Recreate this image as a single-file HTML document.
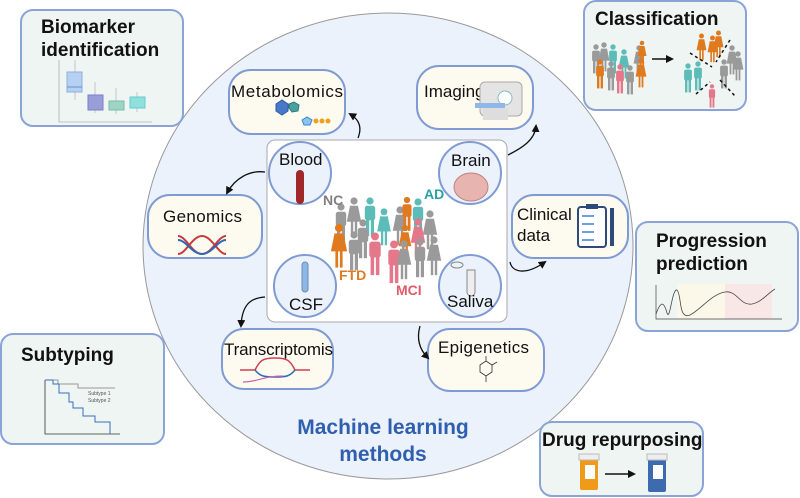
<!DOCTYPE html>
<html><head><meta charset="utf-8"><style>
html,body{margin:0;padding:0;background:#fff;}
svg{display:block;font-family:"Liberation Sans",sans-serif;}
</style></head><body>
<svg width="800" height="498" viewBox="0 0 800 498" xmlns="http://www.w3.org/2000/svg">
<defs>
<symbol id="p" viewBox="0 0 20 50"><circle cx="10" cy="5" r="4.5"/><rect x="3.5" y="11" width="13" height="18" rx="3"/><rect x="5" y="27" width="4" height="22"/><rect x="11" y="27" width="4" height="22"/></symbol>
<symbol id="f" viewBox="0 0 20 50"><circle cx="10" cy="5" r="4.5"/><path d="M5 11h10l4 20H1z"/><rect x="6" y="29" width="3" height="20"/><rect x="11" y="29" width="3" height="20"/></symbol>
<marker id="ah" markerWidth="8" markerHeight="8" refX="6" refY="4" orient="auto" markerUnits="userSpaceOnUse"><path d="M0 0L8 4L0 8z" fill="#111"/></marker>
</defs>
<ellipse cx="388" cy="246" rx="245" ry="233" fill="#ebf2fb" stroke="#999" stroke-width="1"/>
<g stroke="#8aa4d8" stroke-width="2" fill="#eef5f2">
<rect x="21" y="10" width="162" height="116" rx="12"/>
<rect x="584" y="1" width="162" height="109" rx="12"/>
<rect x="636" y="222" width="162" height="109" rx="12"/>
<rect x="1" y="334" width="163" height="110" rx="12"/>
<rect x="540" y="422" width="163" height="74" rx="12"/>
</g>
<g font-weight="bold" fill="#111" font-size="19">
<text x="41" y="33">Biomarker</text>
<text x="41" y="56">identification</text>
<text x="595" y="25">Classification</text>
<text x="656" y="247">Progression</text>
<text x="656" y="270">prediction</text>
<text x="21" y="361">Subtyping</text>
<text x="542" y="446">Drug repurposing</text>
</g>
<!-- boxplot -->
<path d="M59 60V122H152" stroke="#999" stroke-width="0.6" fill="none"/>
<g stroke="#999" stroke-width="0.5"><path d="M75 60v12M75 92v8M95 82v13M95 110v3M116 88v13M116 110v4M137 92v5M137 108v4"/></g>
<rect x="67" y="72" width="15" height="20" fill="#b6d0f1" stroke="#8fb0e0"/><line x1="67" y1="87" x2="82" y2="87" stroke="#6a90d0"/>
<rect x="88" y="95" width="15" height="15" fill="#9a9ed8" stroke="#7a80c8"/>
<rect x="109" y="101" width="15" height="9" fill="#9fd3c3" stroke="#7bbba8"/>
<rect x="130" y="97" width="15" height="11" fill="#8fe0dd" stroke="#66cccc"/>
<!-- subtyping chart -->
<path d="M45 380V434H120" stroke="#333" fill="none" stroke-width="0.8"/>
<path d="M45 380H58V384H78V388H115" stroke="#999" fill="none"/>
<path d="M45 380H53V384H59V393H69V402H73V408H83V416H95V422H110V434" stroke="#3b6fc0" fill="none"/>
<text x="88" y="395" font-size="5" fill="#555">Subtype 1</text><text x="88" y="402" font-size="5" fill="#555">Subtype 2</text>
<!-- progression chart -->
<rect x="677" y="284" width="48" height="35" fill="#fbf8ea"/><rect x="725" y="284" width="47" height="35" fill="#f9e6e6"/>
<path d="M656 285V319H782" stroke="#444" fill="none" stroke-width="0.7"/>
<path d="M656 314C661 300 664 302 667 313C670 322 672 288 677 290C682 295 678 320 690 315C700 310 712 294 725 292C737 290 740 306 752 304C762 302 768 293 775 289" stroke="#444" fill="none" stroke-width="0.8"/>
<rect x="267" y="140" width="240" height="182" rx="8" fill="#fff" stroke="#aaa" stroke-width="1"/>
<g stroke="#7f9bd4" stroke-width="2" fill="#fdfaf0">
<rect x="229" y="70" width="116" height="64" rx="22"/>
<rect x="417" y="66" width="116" height="63" rx="22"/>
<rect x="148" y="195" width="114" height="63" rx="22"/>
<rect x="512" y="195" width="116" height="63" rx="22"/>
<rect x="222" y="329" width="111" height="60" rx="22"/>
<rect x="428" y="329" width="116" height="62" rx="22"/>
</g>
<g font-size="17" fill="#111">
<text x="231" y="97" textLength="112">Metabolomics</text>
<text x="424" y="97">Imaging</text>
<text x="163" y="222" textLength="79">Genomics</text>
<text x="517" y="220">Clinical</text><text x="517" y="241">data</text>
<text x="224" y="355" textLength="109">Transcriptomis</text>
<text x="438" y="353" textLength="91">Epigenetics</text>
</g>
<path d="M276 104l6 -4 6 4v7l-6 4-6-4z" fill="#4a78c8" stroke="#2d5aa8"/>
<path d="M289 104l5-2 5 3-1 6-6 1-3-4z" fill="#4aa0a0" stroke="#2d7a7a"/>
<path d="M302 120l5-3 5 3-2 5h-6z" fill="#8cc4f0" stroke="#3c86c8"/>
<g fill="#f0a020"><circle cx="316" cy="121" r="2.5"/><circle cx="322" cy="121" r="2.5"/><circle cx="328" cy="121" r="2.5"/></g>
<rect x="480" y="82" width="42" height="34" rx="5" fill="#e4e4e4" stroke="#aaa"/><circle cx="505" cy="98" r="7" fill="#fff" stroke="#8bb"/><path d="M475 103h30v5h-30z" fill="#8fb8e8"/><rect x="483" y="108" width="25" height="12" fill="#ddd"/>
<path d="M178 236c8 0 14 18 24 18s16-18 24-18M178 254c8 0 14-18 24-18s16 18 24 18" stroke="#c83a3a" stroke-width="2" fill="none"/>
<path d="M178 240c8 0 14 14 24 14s16-14 24-14" stroke="#2a6ab8" stroke-width="2" fill="none"/>
<path d="M240 370h15c5-10 8-12 20-12s15 2 20 12h15" stroke="#d04050" stroke-width="1.5" fill="none"/>
<path d="M255 370c5 6 8 7 20 7s15-1 20-7" stroke="#2a70b0" stroke-width="1.5" fill="none"/>
<path d="M243 382c15 0 20-6 40-6" stroke="#d060b0" stroke-width="1.2" fill="none"/>
<g stroke="#333" stroke-width="0.8" fill="none"><path d="M480 365l6-4 6 4v7l-6 4-6-4zM486 361v-5M492 365l5-3M486 376v6"/></g>
<rect x="578" y="207" width="28" height="40" rx="3" fill="#fff" stroke="#2d4a78" stroke-width="2"/><rect x="586" y="204" width="12" height="5" fill="#2d4a78"/>
<g stroke="#3e7ed8" stroke-width="1.5"><path d="M582 216h12M582 224h12M582 232h12M582 240h12"/></g>
<rect x="610" y="208" width="4" height="38" fill="#2d4a78"/>
<g fill="#ebf2fb" stroke="#7f9bd4" stroke-width="2">
<circle cx="300" cy="173" r="31"/><circle cx="470" cy="173" r="31"/>
<circle cx="305" cy="286" r="31"/><circle cx="470" cy="286" r="31"/>
</g>
<rect x="296" y="170" width="8" height="34" rx="4" fill="#a02828"/>
<ellipse cx="471" cy="187" rx="17" ry="14" fill="#e8b4b0" stroke="#c08080"/>
<rect x="302" y="262" width="6" height="30" rx="3" fill="#8cb8e8" stroke="#6a8ab0"/>
<path d="M467 270h8v22a4 4 0 0 1-8 0z" fill="#eee" stroke="#888"/><ellipse cx="457" cy="265" rx="6" ry="3" fill="none" stroke="#888"/>
<g font-size="17" fill="#111">
<text x="279" y="165">Blood</text><text x="451" y="166">Brain</text>
<text x="289" y="310">CSF</text><text x="447" y="307">Saliva</text>
</g>
<g>
<use href="#p" x="333" y="203" width="16" height="40" fill="#9a9a9a"/>
<use href="#f" x="346" y="197" width="16" height="40" fill="#9a9a9a"/>
<use href="#p" x="362" y="197" width="16" height="40" fill="#5cbcb8"/>
<use href="#f" x="376" y="208" width="16" height="38" fill="#5cbcb8"/>
<use href="#f" x="392" y="206" width="16" height="40" fill="#9a9a9a"/>
<use href="#p" x="400" y="196" width="14" height="36" fill="#e07a20"/>
<use href="#p" x="410" y="198" width="16" height="40" fill="#5cbcb8"/>
<use href="#f" x="422" y="210" width="16" height="40" fill="#9a9a9a"/>
<use href="#p" x="355" y="218" width="16" height="42" fill="#9a9a9a"/>
<use href="#f" x="330" y="223" width="18" height="46" fill="#e07a20"/>
<use href="#p" x="346" y="230" width="16" height="42" fill="#9a9a9a"/>
<use href="#p" x="366" y="232" width="18" height="44" fill="#e4788a"/>
<use href="#p" x="385" y="240" width="18" height="44" fill="#e4788a"/>
<use href="#f" x="398" y="224" width="14" height="36" fill="#e07a20"/>
<use href="#f" x="410" y="218" width="16" height="40" fill="#e4788a"/>
<use href="#f" x="396" y="240" width="16" height="40" fill="#9a9a9a"/>
<use href="#p" x="412" y="238" width="16" height="40" fill="#9a9a9a"/>
<use href="#f" x="426" y="236" width="16" height="40" fill="#9a9a9a"/>
</g>
<g font-weight="bold" font-size="14">
<text x="323" y="205" fill="#808080">NC</text>
<text x="424" y="199" fill="#2aa0a0">AD</text>
<text x="339" y="280" fill="#e07a20">FTD</text>
<text x="396" y="295" fill="#e05a68">MCI</text>
</g>
<g>
<use href="#p" x="590" y="42" width="12" height="34" fill="#9a9a9a"/>
<use href="#f" x="598" y="40" width="12" height="34" fill="#9a9a9a"/>
<use href="#p" x="607" y="41" width="12" height="36" fill="#5cbcb8"/>
<use href="#f" x="618" y="48" width="12" height="32" fill="#5cbcb8"/>
<use href="#p" x="594" y="57" width="12" height="34" fill="#e07a20"/>
<use href="#p" x="605" y="60" width="12" height="32" fill="#9a9a9a"/>
<use href="#p" x="614" y="61" width="12" height="36" fill="#e4788a"/>
<use href="#p" x="624" y="63" width="12" height="34" fill="#9a9a9a"/>
<use href="#f" x="633" y="44" width="12" height="32" fill="#9a9a9a"/>
<use href="#f" x="635" y="57" width="12" height="32" fill="#e07a20"/>
<use href="#f" x="637" y="40" width="10" height="26" fill="#e07a20"/>
<use href="#f" x="696" y="33" width="11" height="28" fill="#e07a20"/>
<use href="#f" x="707" y="34" width="11" height="30" fill="#e07a20"/>
<use href="#f" x="713" y="30" width="11" height="28" fill="#e07a20"/>
<use href="#p" x="682" y="62" width="12" height="32" fill="#5cbcb8"/>
<use href="#p" x="692" y="60" width="12" height="32" fill="#5cbcb8"/>
<use href="#p" x="718" y="58" width="12" height="32" fill="#9a9a9a"/>
<use href="#f" x="726" y="44" width="12" height="32" fill="#9a9a9a"/>
<use href="#f" x="732" y="50" width="12" height="32" fill="#9a9a9a"/>
<use href="#p" x="707" y="84" width="10" height="24" fill="#e4788a"/>
</g>
<line x1="652" y1="59" x2="672" y2="59" stroke="#111" stroke-width="1.5" marker-end="url(#ah)"/>
<g stroke="#111" stroke-width="1.5" stroke-dasharray="3 3"><path d="M690 53l22 14M730 40l-14 22M696 94l14-12M720 80l15 16"/></g>
<rect x="580" y="458" width="18" height="32" rx="2" fill="#f09a1a"/><rect x="579" y="454" width="20" height="6" fill="#eee" stroke="#bbb"/><rect x="585" y="465" width="10" height="14" fill="#fff"/>
<line x1="605" y1="474" x2="634" y2="474" stroke="#111" stroke-width="1.5" marker-end="url(#ah)"/>
<rect x="648" y="458" width="18" height="34" rx="2" fill="#3e6ab0"/><rect x="647" y="454" width="20" height="6" fill="#eee" stroke="#bbb"/><rect x="653" y="465" width="10" height="14" fill="#fff"/>
<g stroke="#111" stroke-width="1.3" fill="none">
<path d="M358 138C362 128 360 120 350 114" marker-end="url(#ah)"/>
<path d="M508 155C522 148 535 140 536 126" marker-end="url(#ah)"/>
<path d="M265 172C250 170 235 178 227 193" marker-end="url(#ah)"/>
<path d="M510 262C512 272 525 276 545 262" marker-end="url(#ah)"/>
<path d="M265 297C250 298 242 305 241 326" marker-end="url(#ah)"/>
<path d="M420 326C416 340 420 350 428 358" marker-end="url(#ah)"/>
</g>
<g font-weight="bold" font-size="21" fill="#2f5fae" text-anchor="middle">
<text x="383" y="434">Machine learning</text>
<text x="383" y="461">methods</text>
</g>
</svg>
</body></html>
